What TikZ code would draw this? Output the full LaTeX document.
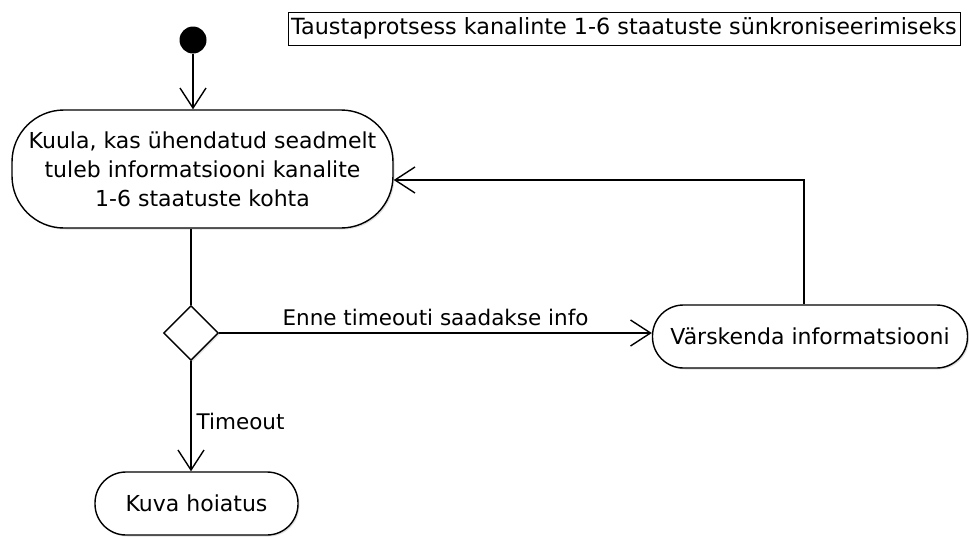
\documentclass[tikz,border=0pt]{standalone}
\usepackage{fontspec}
\setmainfont{DejaVu Sans}
\usetikzlibrary{arrows.meta,shapes.geometric,shadows}

\tikzset{
  flow/.style={line width=1.4pt, -{Straight Barb[length=20pt,width=26pt,line width=1.4pt]}},
  plain/.style={line width=1.4pt},
  activity/.style={draw, line width=1.4pt, fill=white, align=center, inner sep=0pt,
    font=\fontsize{22}{29}\selectfont,
    drop shadow={shadow xshift=1.5pt, shadow yshift=-1.5pt, opacity=0.25}},
  edgelabel/.style={font=\fontsize{21.5}{25}\selectfont, inner sep=0pt},
}

\begin{document}
\begin{tikzpicture}[x=1pt,y=-1pt]
  \useasboundingbox (0,0) rectangle (969,536);

  % initial node
  \node[circle, fill=black, minimum size=27pt, inner sep=0pt] (start) at (193,40) {};

  % title frame
  \node[draw, line width=1pt, minimum width=672pt, minimum height=33pt, inner sep=0pt,
        font=\fontsize{22.3}{26}\selectfont] (title) at (624,28.5)
        {Taustaprotsess kanalinte 1-6 staatuste sünkroniseerimiseks};

  % activities
  \node[activity, rounded corners=52pt, minimum width=381pt, minimum height=118pt]
        (listen) at (202.5,169)
        {Kuula, kas ühendatud seadmelt\\tuleb informatsiooni kanalite\\1-6 staatuste kohta};
  \node[activity, diamond, aspect=1, minimum width=55pt, minimum height=55pt]
        (dec) at (191,333) {};
  \node[activity, rounded corners=31pt, minimum width=315pt, minimum height=63pt]
        (update) at (810,336.5) {Värskenda informatsiooni};
  \node[activity, rounded corners=31pt, minimum width=203pt, minimum height=63pt]
        (warn) at (196.5,503.5) {Kuva hoiatus};

  % connectors
  \draw[flow] (start.south) -- (start.south |- listen.north);
  \draw[plain] (dec.north |- listen.south) -- (dec.north);
  \draw[flow] (dec.east) -- node[edgelabel, above=7pt] {Enne timeouti saadakse info} (dec.east -| update.west);
  \draw[flow] ([xshift=-6pt]update.north) |- ([yshift=-11pt]listen.east);
  \draw[flow] (dec.south) -- node[edgelabel, right=5pt, pos=0.55] {Timeout} (dec.south |- warn.north);
\end{tikzpicture}
\end{document}
